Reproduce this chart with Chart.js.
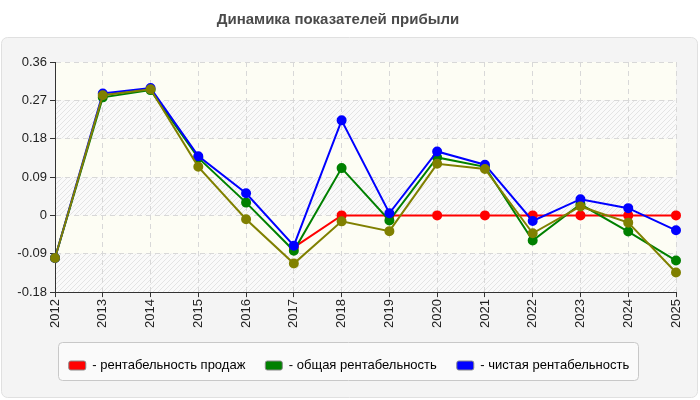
<!DOCTYPE html>
<html>
<head>
<meta charset="utf-8">
<script src="https://cdn.jsdelivr.net/npm/chart.js@4/dist/chart.umd.min.js"></script>
<style>
  html, body { margin: 0; padding: 0; background: #fff; }
  #wrap { width: 700px; height: 400px; }
</style>
</head>
<body>
<div id="wrap"><canvas id="chart" width="700" height="400"></canvas></div>
<script>
const years = ['2012', '2013', '2014', '2015', '2016', '2017', '2018', '2019', '2020', '2021', '2022', '2023', '2024', '2025'];
const yTicks = [0.36, 0.27, 0.18, 0.09, 0, -0.09, -0.18];

// рентабельность продаж
const salesMargin = [null, null, null, null, null, -0.075, 0, 0, 0, 0, 0, 0, 0, 0];
// общая рентабельность
const totalMargin = [-0.1, 0.277, 0.294, 0.135, 0.03, -0.083, 0.111, -0.012, 0.136, 0.114, -0.059, 0.026, -0.038, -0.106];
// чистая рентабельность
const netMargin = [-0.1, 0.286, 0.299, 0.139, 0.052, -0.071, 0.223, 0.005, 0.15, 0.119, -0.013, 0.038, 0.017, -0.035];
// fourth line (not in legend)
const extraLine = [-0.1, 0.282, 0.296, 0.114, -0.009, -0.113, -0.014, -0.037, 0.121, 0.109, -0.042, 0.021, -0.017, -0.134];

const FONT = '"Liberation Sans", Arial, sans-serif';

// grey panel, striped plot bands, legend frame
const backgroundPlugin = {
  id: 'panelBg',
  afterLayout(chart) {
    // legend sits a bit right of centre in the original
    const lg = chart.legend;
    if (lg) { lg.left += 11; lg.right += 11; }
  },
  beforeDraw(chart) {
    const ctx = chart.ctx;
    ctx.save();
    ctx.fillStyle = '#f4f4f4';
    ctx.strokeStyle = '#e0e0e0';
    ctx.lineWidth = 1;
    ctx.beginPath();
    ctx.roundRect(1.5, 37.5, 696, 360, 6);
    ctx.fill();
    ctx.stroke();

    const area = chart.chartArea;
    const y = chart.scales.y;
    const pc = document.createElement('canvas');
    pc.width = 5; pc.height = 5;
    const p = pc.getContext('2d');
    p.fillStyle = '#fafafa';
    p.fillRect(0, 0, 5, 5);
    p.strokeStyle = '#e4e4e4';
    p.lineWidth = 1;
    p.beginPath();
    p.moveTo(0, 5); p.lineTo(5, 0);
    p.moveTo(-1, 1); p.lineTo(1, -1);
    p.moveTo(4, 6); p.lineTo(6, 4);
    p.stroke();
    const hatch = ctx.createPattern(pc, 'repeat');

    for (let i = 0; i < yTicks.length - 1; i++) {
      const top = y.getPixelForValue(yTicks[i]);
      const bot = y.getPixelForValue(yTicks[i + 1]);
      ctx.fillStyle = i % 2 === 0 ? '#fdfdf4' : hatch;
      ctx.fillRect(area.left, top, area.right - area.left, bot - top);
    }

    const lg = chart.legend;
    if (lg && lg.legendHitBoxes.length) {
      const cy = lg.top + lg.height / 2;
      ctx.fillStyle = '#fafafa';
      ctx.strokeStyle = '#c8c8c8';
      ctx.beginPath();
      ctx.roundRect(58.5, Math.round(cy) - 18.5, 580, 38, 4);
      ctx.fill();
      ctx.stroke();
    }
    ctx.restore();
  }
};

const mk = (label, data, color, order) => ({
  label: label,
  data: data,
  borderColor: color,
  backgroundColor: color,
  pointBackgroundColor: color,
  pointBorderColor: color,
  borderWidth: 2,
  pointRadius: 4,
  pointHoverRadius: 4,
  tension: 0,
  spanGaps: false,
  order: order
});

new Chart(document.getElementById('chart'), {
  type: 'line',
  data: {
    labels: years,
    datasets: [
      mk('- рентабельность продаж', salesMargin, '#ff0000', 3),
      mk('- общая рентабельность', totalMargin, '#008000', 2),
      mk('- чистая рентабельность', netMargin, '#0000ff', 1),
      mk('', extraLine, '#808000', 0)
    ]
  },
  options: {
    responsive: false,
    animation: false,
    layout: { padding: { left: 0, right: 24, top: 0, bottom: 18 } },
    plugins: {
      title: {
        display: true,
        text: 'Динамика показателей прибыли',
        color: '#4a4a4a',
        font: { family: FONT, size: 15, weight: 'bold' },
        padding: { top: 11, bottom: 33 }
      },
      legend: {
        position: 'bottom',
        labels: {
          filter: item => item.datasetIndex < 3,
          color: '#333',
          font: { family: FONT, size: 13 },
          boxWidth: 17,
          boxHeight: 9,
          padding: 20,
          useBorderRadius: true,
          borderRadius: 2,
          generateLabels(chart) {
            return chart.data.datasets.map((ds, i) => ({
              text: ds.label,
              fillStyle: ds.borderColor,
              strokeStyle: '#888',
              lineWidth: 1,
              borderRadius: 2,
              datasetIndex: i,
              hidden: false
            }));
          }
        }
      },
      tooltip: { enabled: false }
    },
    scales: {
      x: {
        offset: false,
        afterFit(scale) { scale.height += 9; },
        grid: {
          color: '#d8d8d8',
          tickColor: '#333',
          tickLength: 5,
          tickBorderDash: []
        },
        border: { color: '#333', width: 1, dash: [5, 4] },
        ticks: {
          color: '#222',
          font: { family: FONT, size: 13 },
          maxRotation: 90,
          minRotation: 90,
          padding: 2,
          autoSkip: false
        }
      },
      y: {
        min: -0.18,
        max: 0.36,
        afterFit(scale) { scale.width = 55; },
        afterBuildTicks(scale) {
          scale.ticks = yTicks.map(v => ({ value: v }));
        },
        grid: {
          color: '#d8d8d8',
          tickColor: '#333',
          tickLength: 5,
          tickBorderDash: []
        },
        border: { color: '#333', width: 1, dash: [5, 4] },
        ticks: {
          color: '#222',
          font: { family: FONT, size: 13 },
          padding: 3,
          callback: v => String(Math.round(v * 100) / 100)
        }
      }
    }
  },
  plugins: [backgroundPlugin]
});
</script>
</body>
</html>
